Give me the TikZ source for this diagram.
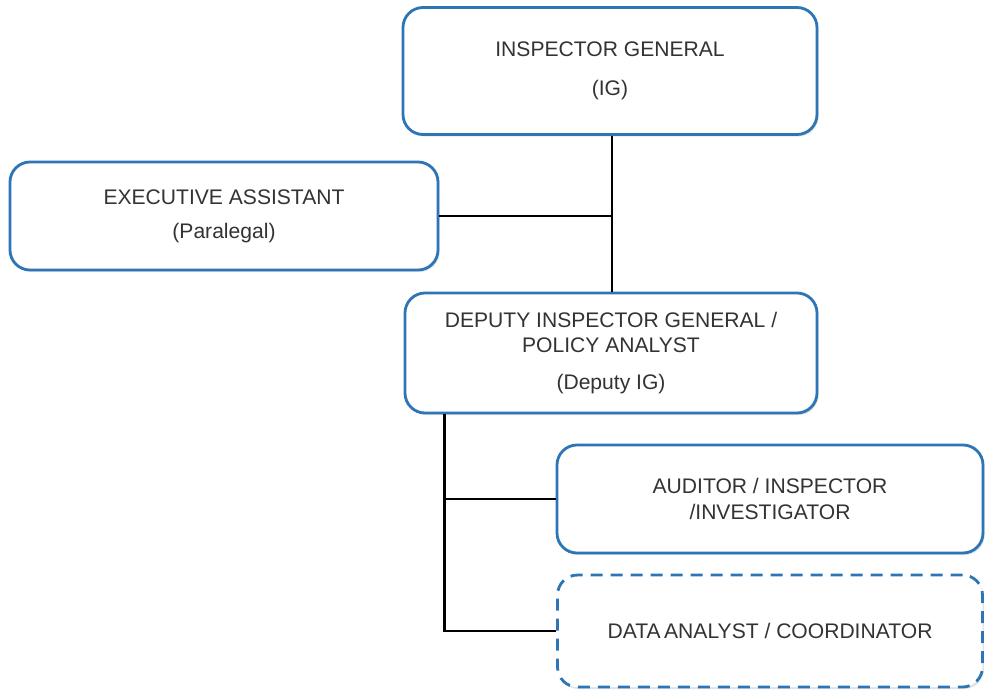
\documentclass[tikz,border=0pt]{standalone}
\usepackage{fontspec}
\setmainfont{Liberation Sans}
\usetikzlibrary{calc, shadows}
\definecolor{boxblue}{RGB}{46,117,182}
\definecolor{txtgray}{RGB}{51,51,51}
\tikzstyle{role} = [rectangle, rounded corners=0.5cm, align=center, draw=boxblue, line width=2pt, fill=white, text=txtgray, font=\fontsize{15}{18}\selectfont, drop shadow={shadow xshift=0.04cm, shadow yshift=-0.05cm, fill=black!22}]
\tikzstyle{vacant} = [role, dash pattern=on 0.3cm off 0.2cm]
\tikzstyle{link} = [line width=1.8pt, black]

\begin{document}
\begin{tikzpicture}
		\useasboundingbox (0,0) rectangle (24.675,-17.25);
		\node (ig) [role, minimum width=10.35cm, minimum height=3.175cm] at (15.25,-1.775) {INSPECTOR GENERAL\\[10pt](IG)};
		\node (assistant) [role, minimum width=10.7cm, minimum height=2.7cm] at ($(ig) + (-9.65, -3.625)$) {EXECUTIVE ASSISTANT\\[6pt](Paralegal)};
		\node (deputy) [role, minimum width=10.3cm, minimum height=3cm] at ($(ig) + (0.025, -7.05)$) {DEPUTY INSPECTOR GENERAL /\\POLICY ANALYST\\[8pt](Deputy IG)};
		\node (auditor) [role, minimum width=10.65cm, minimum height=2.7cm] at ($(deputy) + (3.975, -3.65)$) {AUDITOR / INSPECTOR\\/INVESTIGATOR};
		\node (analyst) [vacant, minimum width=10.625cm, minimum height=2.8cm] at ($(auditor) + (0, -3.3)$) {DATA\,ANALYST / COORDINATOR};
		\coordinate (trunk) at ($(deputy.south west) + (1.025, 0)$);

		\draw[link] ($(ig.south) + (0.05, 0)$) -- ($(ig.south |- deputy.north) + (0.05, 0)$);
		\draw[link] (assistant.east) -- ($(assistant.east -| ig.south) + (0.05, 0)$);
		\draw[link] (trunk) |- (analyst.west);
		\draw[link] (auditor.west) -- (auditor.west -| trunk);
	\end{tikzpicture}
\end{document}
